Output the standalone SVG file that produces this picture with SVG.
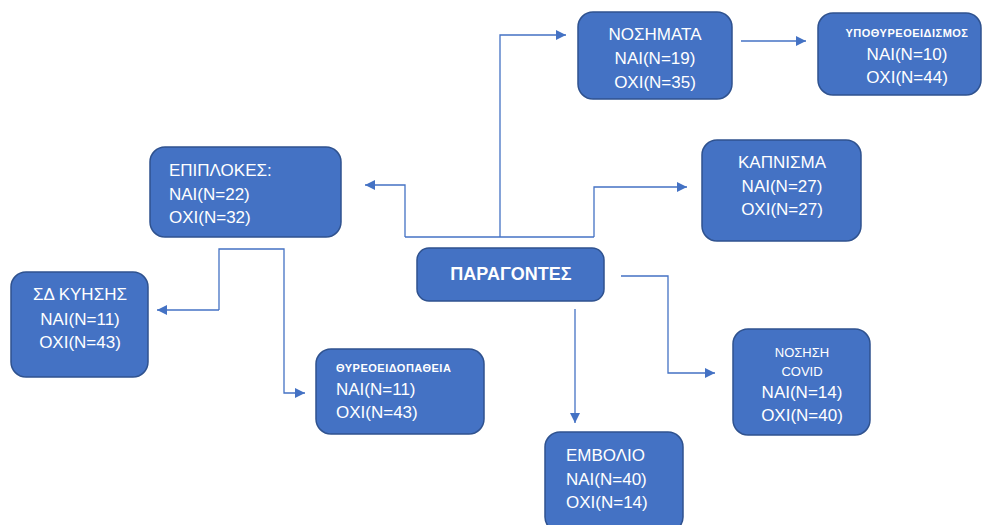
<svg xmlns="http://www.w3.org/2000/svg" width="984" height="525" viewBox="0 0 984 525">
<defs>
<marker id="arr" viewBox="0 0 10 10" refX="10" refY="5" markerWidth="10" markerHeight="10" markerUnits="userSpaceOnUse" orient="auto">
<path d="M0,0 L10,5 L0,10 Z" fill="#4472C4"/>
</marker>
</defs>
<style>
.box{fill:#4472C4;stroke:#2F528F;stroke-width:1.5}
.t{font-family:"Liberation Sans",Arial,sans-serif;font-size:17px;fill:#FFFFFF}
.s{font-family:"Liberation Sans",Arial,sans-serif;font-size:11px;font-weight:bold;letter-spacing:0.5px;fill:#FFFFFF}
.m{font-family:"Liberation Sans",Arial,sans-serif;font-size:13px;fill:#FFFFFF}
.c{text-anchor:middle}
.b{font-weight:bold;font-size:18px}
.ln{fill:none;stroke:#4472C4;stroke-width:1.3}
</style>
<rect width="984" height="525" fill="#FFFFFF"/>
<g id="connectors">
<polyline class="ln" points="405,237 594,237"/>
<polyline class="ln" points="500,237 500,35 566,35" marker-end="url(#arr)"/>
<polyline class="ln" points="405,237 405,185 365,185" marker-end="url(#arr)"/>
<polyline class="ln" points="594,237 594,187 687,187" marker-end="url(#arr)"/>
<polyline class="ln" points="741,41 806,41" marker-end="url(#arr)"/>
<polyline class="ln" points="219,310 219,249 284,249 284,393 305,393" marker-end="url(#arr)"/>
<polyline class="ln" points="219,310 157,310" marker-end="url(#arr)"/>
<polyline class="ln" points="621,276 668,276 668,373 715,373" marker-end="url(#arr)"/>
<polyline class="ln" points="575,309 575,423" marker-end="url(#arr)"/>
</g>
<g id="paragontes">
<rect class="box" x="417" y="248" width="187" height="53" rx="12"/>
<text class="t c b" x="511" y="280">ΠΑΡΑΓΟΝΤΕΣ</text>
</g>
<g id="nosimata">
<rect class="box" x="578" y="12" width="154" height="87" rx="15"/>
<text class="t c" x="655" y="40">ΝΟΣΗΜΑΤΑ</text>
<text class="t c" x="655" y="64">ΝΑΙ(Ν=19)</text>
<text class="t c" x="655" y="88">ΟΧΙ(Ν=35)</text>
</g>
<g id="ypothyreoeidismos">
<rect class="box" x="818" y="13" width="163" height="82" rx="15"/>
<text class="s c" x="907" y="37">ΥΠΟΘΥΡΕΟΕΙΔΙΣΜΟΣ</text>
<text class="t c" x="907" y="60">ΝΑΙ(Ν=10)</text>
<text class="t c" x="907" y="83">ΟΧΙ(Ν=44)</text>
</g>
<g id="kapnisma">
<rect class="box" x="702" y="140" width="159" height="101" rx="15"/>
<text class="t c" x="782" y="168">ΚΑΠΝΙΣΜΑ</text>
<text class="t c" x="782" y="192">ΝΑΙ(Ν=27)</text>
<text class="t c" x="782" y="215">ΟΧΙ(Ν=27)</text>
</g>
<g id="epiplokes">
<rect class="box" x="150" y="147" width="191" height="90" rx="15"/>
<text class="t" x="169" y="176">ΕΠΙΠΛΟΚΕΣ:</text>
<text class="t" x="169" y="200">ΝΑΙ(Ν=22)</text>
<text class="t" x="169" y="223">ΟΧΙ(Ν=32)</text>
</g>
<g id="sd-kyisis">
<rect class="box" x="11" y="272" width="137" height="105" rx="15"/>
<text class="t c" x="80" y="300">ΣΔ ΚΥΗΣΗΣ</text>
<text class="t c" x="80" y="325">ΝΑΙ(Ν=11)</text>
<text class="t c" x="80" y="348">ΟΧΙ(Ν=43)</text>
</g>
<g id="thyreoeidopatheia">
<rect class="box" x="316" y="349" width="168" height="85" rx="15"/>
<text class="s" x="336" y="372">ΘΥΡΕΟΕΙΔΟΠΑΘΕΙΑ</text>
<text class="t" x="336" y="395">ΝΑΙ(Ν=11)</text>
<text class="t" x="336" y="418">ΟΧΙ(Ν=43)</text>
</g>
<g id="nosisi-covid">
<rect class="box" x="733" y="329" width="137" height="106" rx="15"/>
<text class="m c" x="802" y="357">ΝΟΣΗΣΗ</text>
<text class="m c" x="802" y="376">COVID</text>
<text class="t c" x="802" y="398">ΝΑΙ(Ν=14)</text>
<text class="t c" x="802" y="421">ΟΧΙ(Ν=40)</text>
</g>
<g id="emvolio">
<rect class="box" x="545" y="432" width="138" height="100" rx="15"/>
<text class="t" x="566" y="461">ΕΜΒΟΛΙΟ</text>
<text class="t" x="566" y="485">ΝΑΙ(Ν=40)</text>
<text class="t" x="566" y="508">ΟΧΙ(Ν=14)</text>
</g>
</svg>
